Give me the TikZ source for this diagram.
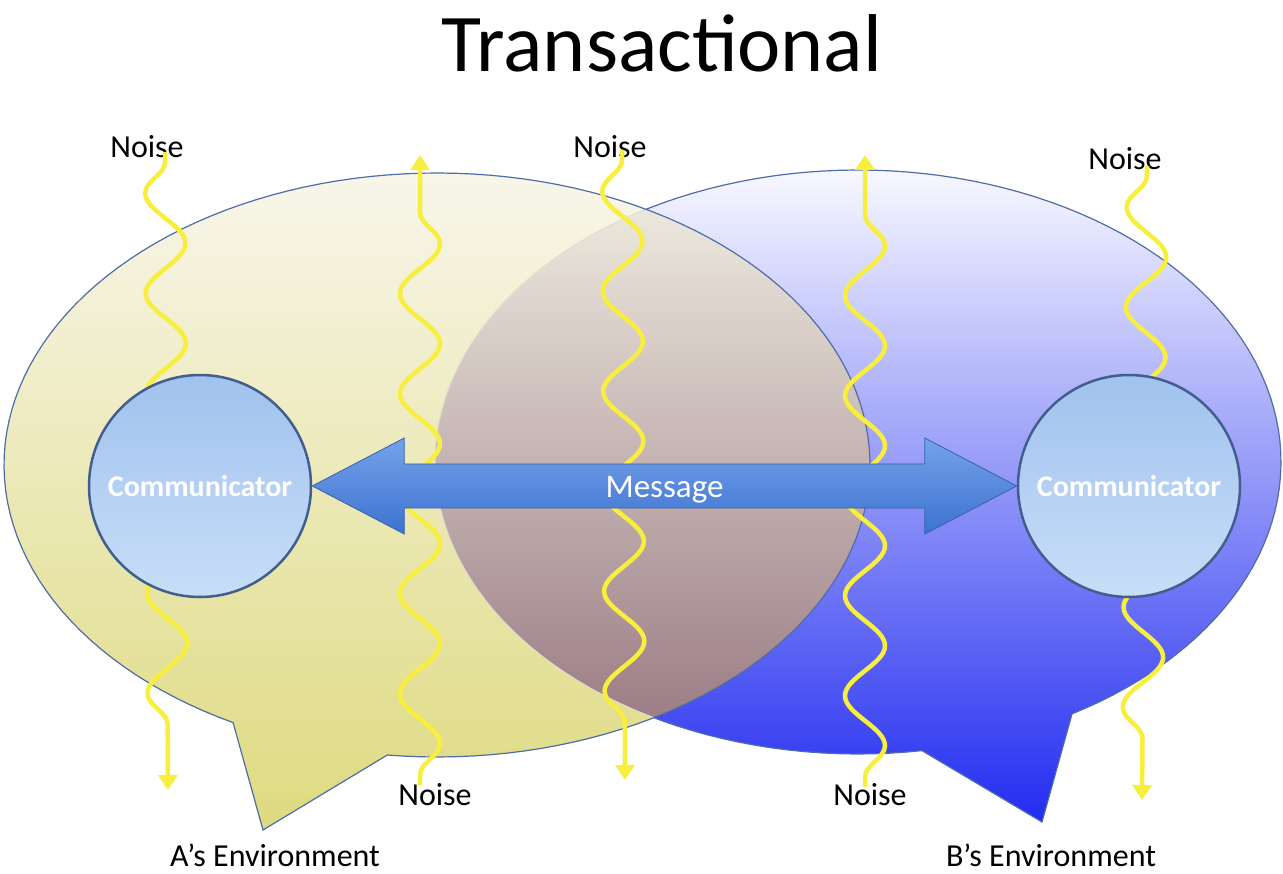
\documentclass[tikz,border=0pt]{standalone}
\usepackage{fontspec}
\setmainfont{Carlito}
\usetikzlibrary{arrows.meta,decorations.pathmorphing,calc}

\definecolor{noiseyel}{RGB}{248,238,62}
\definecolor{bubbleedge}{RGB}{78,108,165}
\definecolor{leftTop}{RGB}{248,246,234}
\definecolor{leftBot}{RGB}{222,218,128}
\definecolor{rightTop}{RGB}{248,248,255}
\definecolor{rightMid}{RGB}{104,104,242}
\definecolor{rightBot}{RGB}{34,44,240}
\definecolor{mixTop}{RGB}{242,240,228}
\definecolor{mixMid}{RGB}{204,198,174}
\definecolor{mixBot}{RGB}{140,104,116}
\definecolor{commTop}{RGB}{160,194,238}
\definecolor{commBot}{RGB}{200,222,248}
\definecolor{commEdge}{RGB}{66,94,142}
\definecolor{msgTop}{RGB}{118,162,234}
\definecolor{msgBot}{RGB}{60,114,208}
\definecolor{msgEdge}{RGB}{58,98,168}

\tikzset{
  leftbubble/.style={insert path={plot[domain=118.1:456.6,samples=150] ({437+433*cos(\x)},{465+292*sin(\x)}) -- (263,830) -- cycle}},
  rightbubble/.style={insert path={plot[domain=81.3:419.6,samples=150] ({858+423*cos(\x)},{462+292*sin(\x)}) -- (1042,822) -- cycle}},
  noise/.style={draw=noiseyel,line width=4.5pt,decorate,
    decoration={snake,mirror,amplitude=20pt,segment length=100pt,pre length=10pt,post length=16pt},
    -{Triangle[length=15pt,width=19pt]}},
  comm/.style={circle,minimum size=222pt,inner sep=0pt,top color=commTop,bottom color=commBot,
    draw=commEdge,line width=2.5pt,text=white,font=\fontsize{30}{36}\selectfont\bfseries},
  lbl/.style={font=\fontsize{32}{38}\selectfont,anchor=base,inner sep=0pt}
}

\begin{document}
\begin{tikzpicture}[x=1pt,y=-1pt]
\useasboundingbox (0,0) rectangle (1283,874);

% the two environments
\path[top color=rightTop,middle color=rightMid,bottom color=rightBot] [rightbubble];
\draw[bubbleedge,line width=1.2pt] [rightbubble];
\path[top color=leftTop,bottom color=leftBot] [leftbubble];
\begin{scope}
  \clip [leftbubble];
  \path[top color=mixTop,middle color=mixMid,bottom color=mixBot] [rightbubble];
  \draw[mixMid!60!white,line width=1pt] [rightbubble];
\end{scope}
\draw[bubbleedge,line width=1.2pt] [leftbubble];

% noise
\node[lbl] (n1) at (147,158) {Noise};
\node[lbl] (n2) at (610,158) {Noise};
\node[lbl] (n3) at (1125,170) {Noise};
\node[lbl] (n4) at (435,805) {Noise};
\node[lbl] (n5) at (870,805) {Noise};
\coordinate (e1) at (168,790);
\coordinate (e2) at (420,155);
\coordinate (e3) at (625,780);
\coordinate (e4) at (865,155);
\coordinate (e5) at (1142,800);
\draw[noise] ([shift={(18,-6)}]n1.base) -- (e1);
\draw[noise] ([shift={(-15,-20)}]n4.base) -- (e2);
\draw[noise] ([shift={(12,-8)}]n2.base) -- (e3);
\draw[noise] ([shift={(-5,-18)}]n5.base) -- (e4);
\draw[noise] ([shift={(22,-4)}]n3.base) -- (e5);

% communicators and message
\node[comm] (ca) at (200,486) {Communicator};
\node[comm] (cb) at (1129,486) {Communicator};
\path[top color=msgTop,bottom color=msgBot,draw=msgEdge,line width=0.8pt]
  (ca.east) -- ([shift={(92,-48)}]ca.east) -- ([shift={(92,-22)}]ca.east)
  -- ([shift={(-92,-22)}]cb.west) -- ([shift={(-92,-48)}]cb.west) -- (cb.west)
  -- ([shift={(-92,48)}]cb.west) -- ([shift={(-92,22)}]cb.west)
  -- ([shift={(92,22)}]ca.east) -- ([shift={(92,48)}]ca.east) -- cycle;
\node[text=white,font=\fontsize{33}{40}\selectfont] (msg) at ([yshift=-4pt]$(ca.east)!0.5!(cb.west)$) {Message};

\node[font=\fontsize{82}{96}\selectfont,anchor=base] (title) at (662,72) {Transactional};
\node[lbl] (envA) at (275,866) {A’s Environment};
\node[lbl] (envB) at (1051,866) {B’s Environment};
\end{tikzpicture}
\end{document}
